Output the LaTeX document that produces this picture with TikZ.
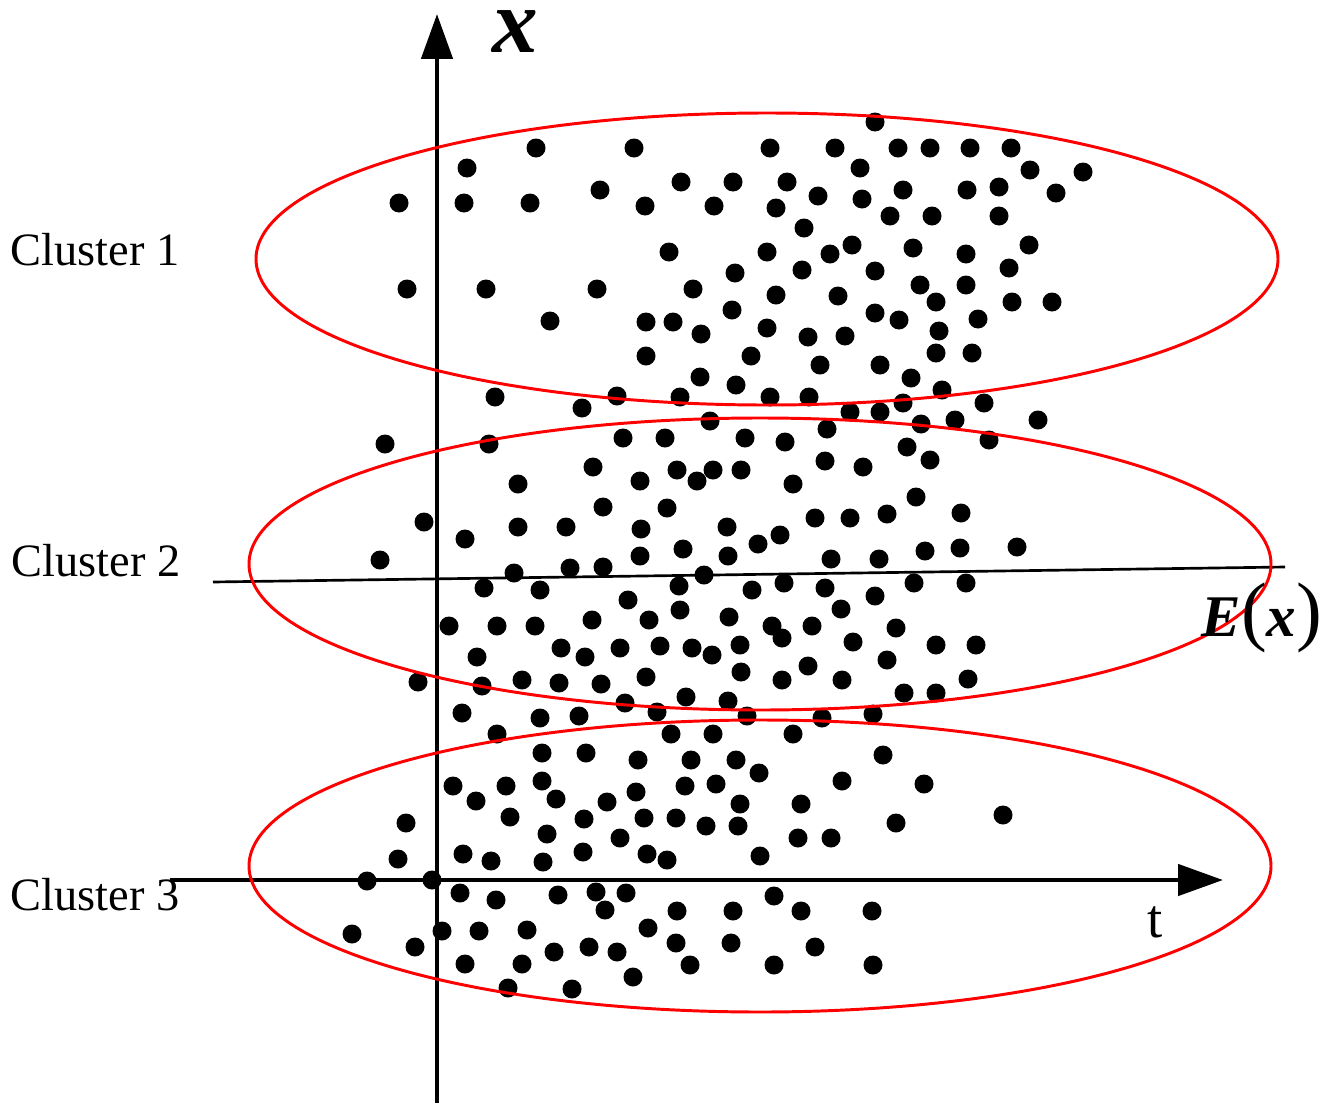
\documentclass[tikz,border=0pt]{standalone}
\usepackage{fontspec}
\setmainfont{Liberation Serif}
\usetikzlibrary{arrows.meta}
\begin{document}
\begin{tikzpicture}[x=0.05cm,y=-0.05cm,
  dot/.style={fill=black},
  axis/.style={line width=7pt,-{Triangle[length=64pt,width=44pt]}},
  clus/.style={draw=red,line width=4.2pt},
  lab/.style={font=\fontsize{66}{70}\selectfont}]
\useasboundingbox (0,0) rectangle (1335,1119);
\foreach \x/\y in {875/122,
536/148,634/148,770/148,835/148,898/148,930/148,970/148,1011/148,
467/168,860/168,1030/170,1083/172,
681/182,733/182,787/182,600/190,967/190,999/187,903/190,1056/193,818/196,
399/203,464/203,530/203,645/206,714/206,776/208,862/199,890/216,932/216,999/216,
804/228,852/245,1029/245,669/252,767/252,830/254,913/248,966/254,
1009/268,802/270,875/271,735/273,920/285,966/285,
407/289,486/289,597/289,693/289,776/295,838/296,
936/302,1012/302,1052/302,732/310,875/313,899/320,
550/321,646/322,673/322,978/319,767/328,701/334,808/337,845/336,939/331,
646/356,751/356,936/353,972/353,820/365,880/365,700/377,911/378,736/385,942/390,
495/397,617/396,680/397,770/397,809/397,903/403,984/403,582/408,850/412,880/412,
1038/420,955/420,921/424,710/421,827/429,
623/438,665/438,745/438,785/442,989/440,385/444,489/444,907/447,930/460,
593/467,677/470,713/470,741/470,825/461,863/467,640/481,697/481,518/484,793/484,916/497,
603/507,667/508,961/513,815/518,850/518,887/514,424/522,
518/527,566/527,641/529,727/527,465/539,780/535,758/544,1017/547,925/551,960/548,
683/549,640/556,728/556,380/560,831/559,879/559,
570/568,603/567,514/573,704/575,914/583,966/583,784/583,
484/588,540/590,679/586,752/590,825/588,875/596,628/600,841/609,680/610,729/617,
649/620,592/620,449/626,497/626,535/626,772/626,896/628,812/626,782/638,853/642,
740/645,936/645,976/645,561/648,620/648,660/646,692/648,712/655,477/657,585/657,887/660,
808/666,741/672,646/677,522/680,559/683,968/679,418/682,601/684,782/680,842/680,482/686,
904/693,936/693,686/697,728/701,625/703,
462/713,657/712,747/716,822/718,873/714,540/718,579/716,
497/734,671/734,713/734,793/734,542/753,586/753,638/760,691/760,736/760,759/773,883/755,
542/781,685/786,842/781,924/784,453/786,506/786,636/792,556/799,
476/801,607/802,716/784,740/804,801/804,1003/815,510/817,644/818,676/818,896/823,584/819,406/823,
706/826,738/826,547/834,798/838,831/838,620/838,583/852,463/854,647/854,760/856,
398/859,491/861,543/862,667/860,367/881,432/880,
460/893,558/895,596/892,626/893,774/896,496/900,
605/910,677/911,733/911,801/911,872/911,648/928,
352/934,442/931,479/931,527/930,676/943,731/943,415/947,589/947,617/952,815/947,554/952,
465/964,522/964,690/965,774/965,873/965,633/977,508/988,572/989}
  \fill[dot] (\x,\y) circle (9.5);
\coordinate (xs) at (437,1103); \coordinate (xe) at (437,14);
\coordinate (ts) at (170,880); \coordinate (te) at (1223,880);
\coordinate (es) at (213,582); \coordinate (ee) at (1285,567);
\draw[axis] (xs) -- (xe);
\draw[axis] (ts) -- (te);
\draw[line width=3.8pt] (es) -- (ee);
\draw[clus] (767,259) ellipse [x radius=511,y radius=146];
\draw[clus] (760,564) ellipse [x radius=511,y radius=146];
\draw[clus] (760,866) ellipse [x radius=511,y radius=146];
\node[lab] (c1) at (95,250) {Cluster 1};
\node[lab] (c2) at (96,561) {Cluster 2};
\node[lab] (c3) at (95,895) {Cluster 3};
\node[font=\fontsize{130}{140}\selectfont\bfseries\itshape,anchor=base,inner sep=0pt] (xl) at (515,52) {x};
\node[font=\fontsize{78}{80}\selectfont] (tl) at (1155,922) {t};
\node[font=\fontsize{84}{90}\selectfont,anchor=base] (el) at (1262,636) {\textbf{\textit{E}}{\fontsize{110}{110}\selectfont(}\textbf{\textit{x}}{\fontsize{110}{110}\selectfont)}};
\end{tikzpicture}
\end{document}
